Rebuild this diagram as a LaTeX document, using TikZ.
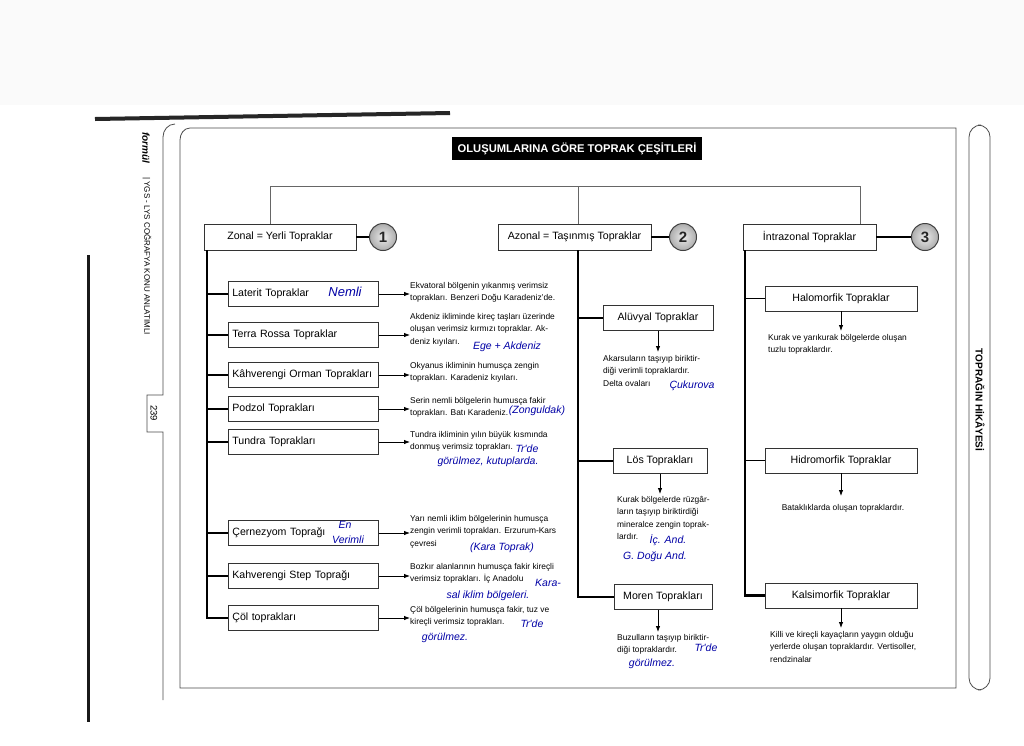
\documentclass[tikz,border=0pt]{standalone}
\usepackage{fontspec}
\setmainfont{Liberation Sans}
\newfontfamily\handfont{Liberation Sans}
\usetikzlibrary{arrows.meta,calc}
\begin{document}
\begin{tikzpicture}[x=1pt,y=-1pt,
  box/.style={draw=black!80, line width=0.7pt, fill=white, minimum height=25pt, inner xsep=4pt, font=\fontsize{10.6}{12}\selectfont},
  lbox/.style={box, text width=142pt, align=left, anchor=west},
  cbox/.style={box, align=center},
  thk/.style={line width=2.8pt, line join=miter},
  br/.style={line width=1.3pt},
  topl/.style={line width=0.6pt, black!60},
  arr/.style={line width=0.8pt, -{Latex[length=6pt,width=4.5pt]}},
  desc/.style={font=\fontsize{8.4}{12.5}\selectfont, align=left, anchor=north west, inner sep=0pt},
  hand/.style={font=\handfont\itshape\fontsize{10.5}{12}\selectfont, text=blue!65!black, inner sep=0pt},
  circ/.style={circle, draw=black!75, line width=1pt, inner color=gray!15, outer color=gray!65, minimum size=27pt, inner sep=0pt, font=\bfseries\fontsize{15}{15}\selectfont, text=black!85},
  frm/.style={line width=0.8pt, black!70}
]
\useasboundingbox (0,0) rectangle (1024,745);
\fill[white] (0,0) rectangle (1024,745);
\fill[gray!4] (0,0) rectangle (1024,105);
% scan edges
\draw[line width=4pt, black!85] (95,119) -- (450,113);
\draw[line width=3pt, black!90] (88,255) -- (88,722);
% page frame
\draw[frm] (180,140) to[out=90,in=180] (190,128) -- (956,128) -- (956,688) -- (180,688) -- cycle;
\draw[frm, rounded corners=12pt] (969,125) rectangle (990,690);
\draw[frm] (175,124) to[out=180,in=90] (163,137) -- (163,395) -- (147,395) -- (147,432) -- (163,432) -- (163,700);
% side texts
\node[rotate=-90, font=\bfseries\itshape\fontsize{10}{11}\selectfont] (formul) at (146,148) {formül};
\node[rotate=-90, font=\fontsize{8}{9}\selectfont] (ygs) at (147,256) {| YGS - LYS COĞRAFYA KONU ANLATIMLI};
\node[rotate=-90, font=\fontsize{9.5}{10}\selectfont] (page) at (154,413) {239};
\node[rotate=-90, font=\bfseries\fontsize{10}{11}\selectfont] (hik) at (980,400) {TOPRAĞIN HİKÂYESİ};
% title
\node[fill=black, text=white, font=\bfseries\fontsize{11.2}{12}\selectfont, minimum width=250pt, minimum height=23pt, inner sep=0pt] (title) at (577,148.5) {OLUŞUMLARINA GÖRE TOPRAK ÇEŞİTLERİ};
% top boxes
\node[cbox, minimum width=152pt, minimum height=26pt] (zonal) at (280,237) {Zonal = Yerli Topraklar};
\node[cbox, minimum width=153pt, minimum height=26pt] (azonal) at (574.5,237) {Azonal = Taşınmış Topraklar};
\node[cbox, minimum width=133pt, minimum height=26pt] (intra) at (809.5,237) {İntrazonal Topraklar};
\node[circ] (c1) at (383,237) {1};
\node[circ] (c2) at (683,237) {2};
\node[circ] (c3) at (925,237) {3};
\draw[br] (zonal.east) -- (c1);
\draw[br] (azonal.east) -- (c2);
\draw[br] (intra.east) -- (c3);
% top connectors
\coordinate (tz) at (270,186);
\coordinate (ti) at (860,186);
\coordinate (zl) at (207,250);
\coordinate (ml) at (578,250);
\coordinate (rl) at (745,250);
\draw[topl] (zonal.north -| tz) -- (tz) -- (ti) -- (intra.north -| ti);
\draw[topl] (tz -| ml) -- (azonal.north -| ml);
% left column boxes
\node[lbox] (lat) at (228,294) {Laterit Topraklar};
\node[lbox] (ter) at (228,335) {Terra Rossa Topraklar};
\node[lbox] (orm) at (228,375) {Kâhverengi Orman Toprakları};
\node[lbox] (pod) at (228,409) {Podzol Toprakları};
\node[lbox] (tun) at (228,442) {Tundra Toprakları};
\node[lbox] (cer) at (228,533) {Çernezyom Toprağı};
\node[lbox] (ste) at (228,576) {Kahverengi Step Toprağı};
\node[lbox] (col) at (228,618) {Çöl toprakları};
\draw[thk] (zonal.south -| zl) |- (col.west);
\foreach \n in {lat,ter,orm,pod,tun,cer,ste} \draw[br] (\n.west) -- (\n.west -| zl);
% left descriptions
\node[desc] (d1) at (410,282) {Ekvatoral bölgenin yıkanmış verimsiz\\toprakları. Benzeri Doğu Karadeniz'de.};
\node[desc] (d2) at (410,313) {Akdeniz ikliminde kireç taşları üzerinde\\oluşan verimsiz kırmızı topraklar. Ak-\\deniz kıyıları.};
\node[desc] (d3) at (410,362) {Okyanus ikliminin humusça zengin\\toprakları. Karadeniz kıyıları.};
\node[desc] (d4) at (410,397) {Serin nemli bölgelerin humusça fakir\\toprakları. Batı Karadeniz.};
\node[desc] (d5) at (410,431) {Tundra ikliminin yılın büyük kısmında\\donmuş verimsiz toprakları.};
\node[desc] (d6) at (410,515) {Yarı nemli iklim bölgelerinin humusça\\zengin verimli toprakları. Erzurum-Kars\\çevresi};
\node[desc] (d7) at (410,563) {Bozkır alanlarının humusça fakir kireçli\\verimsiz toprakları. İç Anadolu};
\node[desc] (d8) at (410,606) {Çöl bölgelerinin humusça fakir, tuz ve\\kireçli verimsiz toprakları.};
\draw[arr] (lat.east) -- (lat.east -| d1.west);
\draw[arr] (ter.east) -- (ter.east -| d2.west);
\draw[arr] (orm.east) -- (orm.east -| d3.west);
\draw[arr] (pod.east) -- (pod.east -| d4.west);
\draw[arr] (tun.east) -- (tun.east -| d5.west);
\draw[arr] (cer.east) -- (cer.east -| d6.west);
\draw[arr] (ste.east) -- (ste.east -| d7.west);
\draw[arr] (col.east) -- (col.east -| d8.west);
% middle column
\node[cbox, minimum width=110pt] (alu) at (658,318) {Alüvyal Topraklar};
\node[cbox, minimum width=94pt] (los) at (660,461) {Lös Toprakları};
\node[cbox, minimum width=98pt] (mor) at (663,597) {Moren Toprakları};
\draw[thk] (azonal.south -| ml) |- (mor.west);
\foreach \n in {alu,los} \draw[br] (\n.west) -- (\n.west -| ml);
\node[desc] (ad) at (603,355) {Akarsuların taşıyıp biriktir-\\diği verimli topraklardır.\\Delta ovaları};
\node[desc] (ld) at (617,496) {Kurak bölgelerde rüzgâr-\\ların taşıyıp biriktirdiği\\mineralce zengin toprak-\\lardır.};
\node[desc] (md) at (617,634) {Buzulların taşıyıp biriktir-\\diği topraklardır.};
\draw[arr] (alu.south) -- ($(alu.south |- ad.north)+(0,-3)$);
\draw[arr] (los.south) -- ($(los.south |- ld.north)+(0,-2)$);
\draw[arr] (mor.south -| alu.south) -- ($(alu.south |- md.north)+(0,-2)$);
% right column
\node[cbox, minimum width=152pt] (hal) at (841,298.5) {Halomorfik Topraklar};
\node[cbox, minimum width=152pt] (hid) at (841,460.5) {Hidromorfik Topraklar};
\node[cbox, minimum width=152pt] (kal) at (841,595.5) {Kalsimorfik Topraklar};
\draw[thk] (intra.south -| rl) |- (kal.west);
\foreach \n in {hal,hid} \draw[br] (\n.west) -- (\n.west -| rl);
\node[desc] (hd) at (768,334) {Kurak ve yarıkurak bölgelerde oluşan\\tuzlu topraklardır.};
\node[desc, anchor=north] (hdd) at (843,504) {Bataklıklarda oluşan topraklardır.};
\node[desc] (kd) at (770,631) {Killi ve kireçli kayaçların yaygın olduğu\\yerlerde oluşan topraklardır. Vertisoller,\\rendzinalar};
\draw[arr] (hal.south) -- ($(hal.south |- hd.north)+(0,-3)$);
\draw[arr] (hid.south) -- ($(hid.south |- hdd.north)+(0,-8)$);
\draw[arr] (kal.south) -- ($(kal.south |- kd.north)+(0,-3)$);
% handwritten notes
\node[hand, font=\handfont\itshape\fontsize{13}{14}\selectfont] (h1) at (345,292) {Nemli};
\node[hand] (h2) at (507,347) {Ege + Akdeniz};
\node[hand] (h3) at (537,411) {(Zonguldak)};
\node[hand] (h4) at (527,449) {Tr'de};
\node[hand] (h5) at (488,462) {görülmez, kutuplarda.};
\node[hand] (h6) at (345,525) {En};
\node[hand] (h7) at (348,540) {Verimli};
\node[hand] (h8) at (502,548) {(Kara Toprak)};
\node[hand] (h9) at (548,583) {Kara-};
\node[hand] (h10) at (488,596) {sal iklim bölgeleri.};
\node[hand] (h11) at (532,624) {Tr'de};
\node[hand] (h12) at (445,638) {görülmez.};
\node[hand] (h13) at (692,386) {Çukurova};
\node[hand] (h14) at (668,540) {İç. And.};
\node[hand] (h15) at (655,557) {G. Doğu And.};
\node[hand] (h16) at (706,648) {Tr'de};
\node[hand] (h17) at (652,664) {görülmez.};
\end{tikzpicture}
\end{document}
